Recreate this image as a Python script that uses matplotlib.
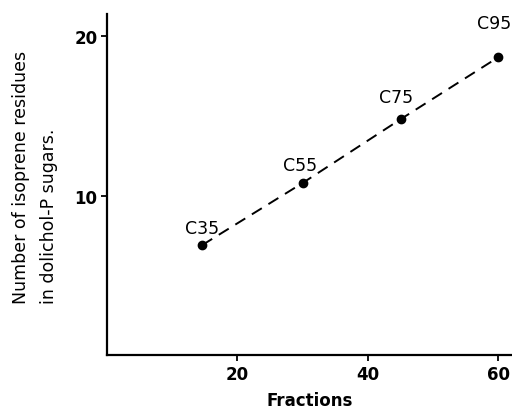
import matplotlib.pyplot as plt

# 분획 번호와 이소프렌 잔기 수
fractions = [14.6, 30, 45, 60]
residues = [6.9, 10.8, 14.8, 18.7]
names = ["C35", "C55", "C75", "C95"]
name_offsets = [(0, 12), (-2, 13), (-3.5, 16), (-3, 24.5)]  # 점 위 라벨 위치 (pt)

if __name__ == "__main__":
    fig = plt.figure(figsize=(5.12, 4.1), dpi=100)
    ax = fig.add_axes([0.209, 0.132, 0.79, 0.831])

    ax.plot(fractions, residues, color="black", linestyle=(0, (6, 4)), linewidth=1.4,
            marker="o", markersize=6, markerfacecolor="black", markeredgecolor="black")

    for x, y, s, off in zip(fractions, residues, names, name_offsets):
        ax.annotate(s, (x, y), xytext=off, textcoords="offset points",
                    ha="center", va="center", fontsize=12.5, fontweight="medium")

    ax.set_xlim(0, 62)
    ax.set_ylim(0, 21.4)
    ax.set_xticks([20, 40, 60])
    ax.set_yticks([10, 20])
    ax.spines["top"].set_visible(False)
    ax.spines["right"].set_visible(False)
    ax.spines["left"].set_linewidth(1.6)
    ax.spines["bottom"].set_linewidth(1.6)
    ax.tick_params(direction="out", length=4, width=1.3, labelsize=12, pad=3)
    for lab in ax.get_xticklabels() + ax.get_yticklabels():
        lab.set_fontweight("bold")

    ax.set_xlabel("Fractions", fontsize=12, fontweight="bold", labelpad=6)
    fig.text(0.068, 0.567, "Number of isoprene residues\nin dolichol-P sugars.",
             rotation=90, ha="center", va="center", fontsize=12.5, linespacing=1.7,
             multialignment="left")

    plt.savefig("out.png", dpi=100)
